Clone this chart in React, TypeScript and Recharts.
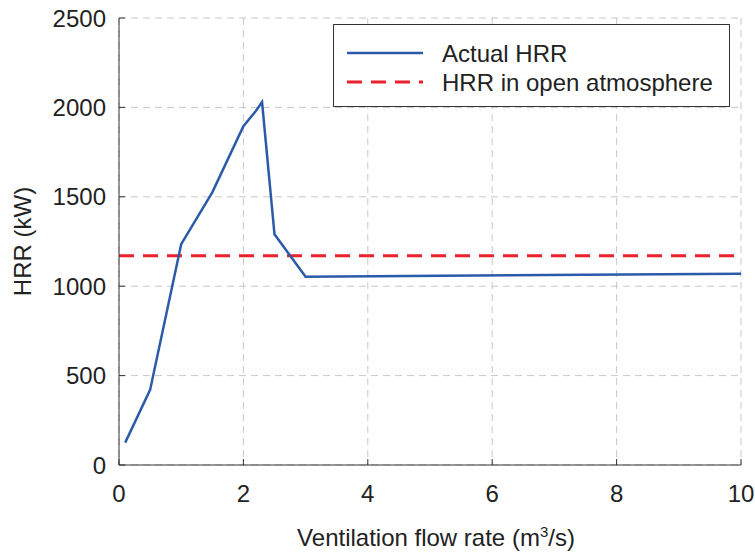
import { LineChart, Line, XAxis, YAxis, CartesianGrid, ReferenceLine, Legend, Label } from "recharts"

const flowRate = [0.1, 0.5, 1.0, 1.5, 2.0, 2.2, 2.3, 2.5, 3.0, 10]
const actualHRR = [125, 420, 1235, 1525, 1895, 1980, 2030, 1290, 1053, 1070]
const openAtmosphereHRR = 1170

const xTicks = [0, 2, 4, 6, 8, 10]
const yTicks = [0, 500, 1000, 1500, 2000, 2500]

const data = flowRate.map((x, i) => ({ x, hrr: actualHRR[i] }))

const FONT = "'Liberation Sans', Arial, Helvetica, sans-serif"
const FS = 24
const BLUE = "#2b5ba8"
const RED = "#e8212a"
const AXIS = "#333"

function LegendBox() {
  return (
    <div
      style={{
        width: 395,
        height: 81,
        border: `1px solid ${AXIS}`,
        background: "#fff",
        fontFamily: FONT,
        fontSize: FS,
      }}
    >
      <svg width={395} height={81}>
        <line x1={13} x2={89} y1={28} y2={28} stroke={BLUE} strokeWidth={2.5} />
        <text x={108} y={28} dy="0.36em" fill="#222">Actual HRR</text>
        <line x1={13} x2={89} y1={57} y2={57} stroke={RED} strokeWidth={3} strokeDasharray="15 9" />
        <text x={108} y={57} dy="0.36em" fill="#222">HRR in open atmosphere</text>
      </svg>
    </div>
  )
}

function XTitle(props: any) {
  const vb = props.viewBox
  const cx = vb.x + vb.width / 2 + 6
  return (
    <text x={cx} y={546} textAnchor="middle" fontSize={FS} fill="#222" fontFamily={FONT}>
      <tspan>Ventilation flow rate (m</tspan>
      <tspan dy={-9} fontSize={15}>3</tspan>
      <tspan dy={9}>/s)</tspan>
    </text>
  )
}

function YTitle(props: any) {
  const vb = props.viewBox
  const cy = vb.y + vb.height / 2
  return (
    <text
      x={31}
      y={cy}
      transform={`rotate(-90 31 ${cy})`}
      textAnchor="middle"
      fontSize={FS}
      fill="#222"
      fontFamily={FONT}
    >
      HRR (kW)
    </text>
  )
}

export default function App() {
  return (
    <div style={{ position: "absolute", left: 0, top: 0, width: 755, height: 554, background: "#fff" }}>
      <LineChart width={755} height={554} data={data} margin={{ top: 18, right: 14, bottom: 0, left: 0 }}>
        <CartesianGrid stroke="#c8c8c8" strokeDasharray="7 5" />
        <XAxis
          dataKey="x"
          type="number"
          domain={[0, 10]}
          ticks={xTicks}
          height={89}
          stroke={AXIS}
          tickSize={-6}
          tickMargin={26}
          tick={{ fontSize: FS, fill: "#222", fontFamily: FONT }}
        >
          <Label content={<XTitle />} />
        </XAxis>
        <XAxis
          xAxisId="top"
          orientation="top"
          type="number"
          domain={[0, 10]}
          ticks={xTicks}
          height={0}
          stroke={AXIS}
          tickSize={-6}
          tick={false}
        />
        <YAxis
          type="number"
          domain={[0, 2500]}
          ticks={yTicks}
          width={119}
          stroke={AXIS}
          tickSize={-6}
          tickMargin={19}
          tick={{ fontSize: FS, fill: "#222", fontFamily: FONT }}
        >
          <Label content={<YTitle />} />
        </YAxis>
        <YAxis
          yAxisId="right"
          orientation="right"
          type="number"
          domain={[0, 2500]}
          ticks={yTicks}
          width={0}
          stroke={AXIS}
          tickSize={-6}
          tick={false}
        />
        <ReferenceLine y={openAtmosphereHRR} stroke={RED} strokeWidth={3} strokeDasharray="15 9" />
        <Line
          dataKey="hrr"
          type="linear"
          stroke={BLUE}
          strokeWidth={2.5}
          dot={false}
          isAnimationActive={false}
        />
        <Legend
          layout="vertical"
          align="center"
          verticalAlign="middle"
          content={<LegendBox />}
          wrapperStyle={{ position: "absolute", left: 333, top: 24, width: 397, height: 83 }}
        />
      </LineChart>
    </div>
  )
}
